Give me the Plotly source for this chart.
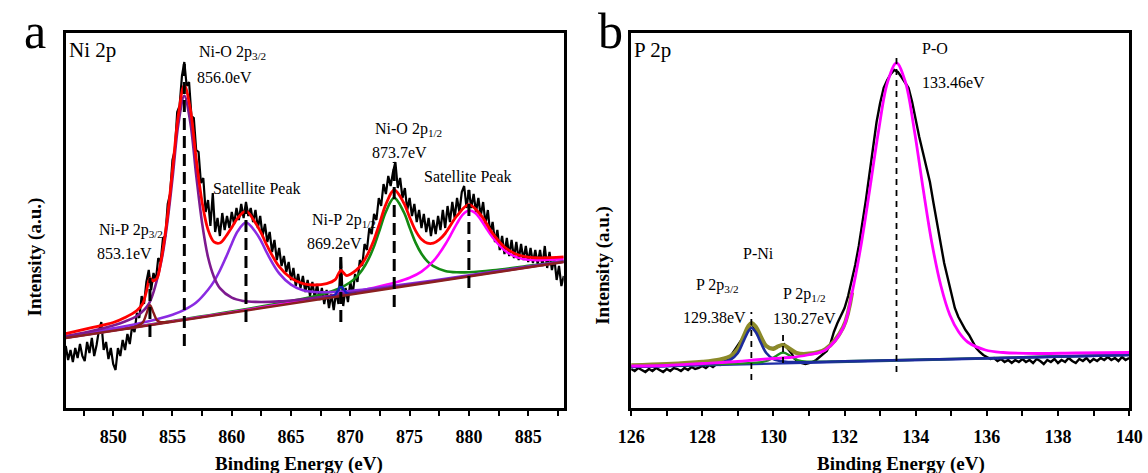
import numpy as np
import plotly.graph_objects as go

W, H = 1148, 473
FONT = "Liberation Serif"

# ---------------- Panel a : Ni 2p ----------------
a_energy_start, a_energy_stop, a_energy_step = 846.0, 888.0, 0.2
a_raw = [
    62, 48, 58, 46, 60, 50, 64, 52, 47, 66,
    55, 70, 52, 63, 78, 86, 58, 66, 49, 60,
    44, 38, 60, 52, 68, 58, 74, 64, 82, 76,
    95, 90, 112, 104, 126, 138, 118, 135, 128, 150,
    146, 170, 172, 204, 214, 248, 258, 296, 302, 332,
    346, 322, 326, 292, 290, 258, 256, 225, 230, 196,
    208, 182, 215, 176, 190, 172, 195, 178, 192, 180,
    196, 184, 200, 188, 204, 190, 206, 192, 200, 186,
    198, 180, 192, 172, 184, 166, 176, 156, 168, 148,
    160, 142, 152, 136, 146, 128, 140, 122, 134, 120,
    132, 116, 128, 112, 126, 110, 124, 108, 120, 104,
    118, 100, 114, 98, 116, 104, 150, 102, 120, 106,
    126, 114, 134, 126, 148, 142, 164, 158, 180, 174,
    194, 188, 210, 202, 224, 214, 232, 222, 236, 246,
    220, 230, 210, 220, 198, 210, 192, 204, 186, 198,
    180, 194, 176, 190, 172, 188, 174, 192, 178, 198,
    180, 202, 186, 206, 190, 210, 196, 216, 222, 200,
    218, 200, 214, 196, 210, 192, 206, 184, 198, 174,
    186, 166, 178, 158, 172, 154, 170, 152, 168, 150,
    166, 148, 164, 148, 162, 146, 160, 145, 158, 144,
    158, 142, 162, 140, 156, 138, 150, 128, 142, 122,
    132,
]

a_base_e = [846, 888]
a_base_i = [70, 146]

a_env_e = [846, 848, 850, 851, 852, 852.5, 852.8, 853.1, 853.4, 853.7, 854, 854.5, 855, 855.5, 856,
           856.5, 857, 857.5, 858, 858.5, 859, 859.5, 860, 860.5, 861.2, 862, 862.5, 863, 864, 865,
           866, 867, 868, 868.7, 868.95, 869.2, 869.45, 869.7, 870.5, 871, 871.5, 872, 872.5, 873, 873.7,
           874.5, 875, 875.5, 876, 876.5, 877, 877.5, 878, 879, 880, 881, 882, 883, 884, 885, 886, 888]
a_env_i = [74.3, 79.9, 85.5, 90.5, 97.5, 104.5, 116.5, 129.5, 127, 130, 145, 184, 237.4, 293.2, 322.9,
           299.4, 249.3, 205.8, 178.2, 166.1, 165.0, 171.5, 180.5, 189.9, 196.8, 185.0, 174.7, 161.8, 141.3, 129.8,
           124.4, 123.0, 124.4, 128.1, 132.9, 137.7, 134.9, 132.4, 137.8, 144.4, 154.7, 168.3, 185.9, 203.7, 218.0,
           205.3, 190.8, 177.4, 168.7, 164.8, 164.8, 168.3, 174.5, 192.3, 203.3, 193.0, 174.6, 161.0, 153.8, 150.9, 150.2, 151.1]

a_nio32_e = [846, 848, 850, 851, 852, 853, 854, 854.5, 855, 855.5, 856, 856.5, 857, 857.5, 858, 858.5,
             859, 860, 861, 862, 864, 866, 868, 872, 878, 888]
a_nio32_i = [72, 76.5, 82.5, 86.5, 92, 104, 143.5, 179.4, 229.3, 284.2, 312.1, 286, 232.9, 184.8, 150.7, 131.1,
             119.9, 110.3, 107, 106.1, 106.6, 108.8, 111.7, 118.2, 128.5, 146.3]

a_sat1_e = [846, 850, 853, 855, 856, 857, 858, 858.5, 859, 859.5, 860, 860.5, 861.2, 862, 862.5, 863,
            864, 865, 866, 867, 868, 870, 873, 877, 882, 888]
a_sat1_i = [71.3, 79.6, 86.8, 93.3, 98.1, 105.4, 118.2, 126.6, 137.5, 150.4, 164.3, 176.7, 185.5, 176.0, 166.4, 154.3,
            134.6, 123.4, 117.7, 116.0, 115.8, 117.0, 121.1, 127.5, 136.1, 146.6]

a_nio12_e = [846, 855, 862, 866, 868, 869, 870, 870.5, 871, 871.5, 872, 872.5, 873, 873.7, 874.5, 875,
             875.5, 876, 876.5, 877, 878, 879, 880, 882, 885, 888]
a_nio12_i = [70.2, 86.9, 100.4, 109.2, 115.0, 119.2, 125.7, 130.8, 137.9, 148.1, 161.6, 179.0, 196.4, 210.1, 196.1, 180.5,
             165.4, 154.3, 146.7, 141.9, 137.1, 135.7, 135.8, 137.7, 142.1, 147.0]

a_sat2_e = [846, 860, 866, 870, 872, 874, 875, 876, 877, 877.5, 878, 878.5, 879, 879.5, 880, 880.5,
            881, 881.5, 882, 883, 884, 885, 886, 887, 888]
a_sat2_i = [70.2, 95.8, 107.3, 115.4, 120.2, 126.2, 130.2, 136.4, 146.9, 154.4, 163.5, 173.8, 184.7, 193.6, 197.5, 195.4,
            188.4, 179.3, 170.8, 157.8, 150.9, 148.3, 147.9, 148.4, 149.1]

a_nip32_e = [851, 852, 852.5, 852.8, 853.1, 853.4, 853.7, 854, 854.5, 855]
a_nip32_i = [79.1, 81.9, 85.6, 94.1, 102.9, 95.2, 87.7, 85.9, 86.0, 86.6]

a_nip12_e = [867.9, 868.4, 868.7, 868.95, 869.2, 869.45, 869.7, 870, 870.5]
a_nip12_i = [109.9, 111.2, 113.1, 117.5, 122.0, 118.4, 114.9, 114.1, 114.6]

a_mark_e = [853.1, 856.0, 861.2, 869.2, 873.7, 880.0]
a_mark_lo = [71, 62, 86, 86, 101, 120]
a_mark_hi = [130, 346, 200, 151, 246, 218]

a_labels = [
    ("Ni-O 2p<sub>3/2</sub>", 857.04, 356),
    ("856.0eV", 856.87, 331),
    ("Satellite Peak", 858.27, 220),
    ("Ni-P 2p<sub>3/2</sub>", 848.64, 178),
    ("853.1eV", 848.47, 155),
    ("Ni-P 2p<sub>1/2</sub>", 866.59, 188),
    ("869.2eV", 866.18, 165),
    ("Ni-O 2p<sub>1/2</sub>", 871.95, 279),
    ("873.7eV", 871.70, 256),
    ("Satellite Peak", 876.07, 232),
]

# ---------------- Panel b : P 2p ----------------
b_energy_start, b_energy_stop, b_energy_step = 126.0, 140.0, 0.1
b_raw = [
    39, 37, 40, 38, 36, 39, 37, 40, 38, 36,
    39, 37, 40, 39, 37, 40, 38, 41, 39, 40,
    42, 40, 43, 41, 44, 43, 46, 48, 52, 57,
    62, 68, 74, 80, 84, 79, 73, 66, 62, 60,
    60, 61, 63, 64, 60, 55, 49, 46, 45, 44,
    45, 46, 48, 51, 54, 57, 64, 76, 85, 92,
    100, 112, 126, 143, 162, 184, 208, 234, 262, 286,
    305, 320, 328, 334, 338, 336, 331, 326, 320, 306,
    288, 271, 256, 240, 226, 205, 184, 166, 145, 130,
    115, 100, 91, 84, 78, 73, 66, 60, 56, 53,
    51, 49, 50, 47, 49, 46, 48, 45, 48, 46,
    49, 46, 48, 45, 49, 47, 44, 48, 46, 49,
    45, 48, 46, 50, 47, 45, 49, 47, 50, 46,
    49, 47, 50, 48, 51, 48, 50, 47, 51, 48,
    50,
]

b_base_e = [126, 140]
b_base_i = [41, 53]

b_po_e = [126, 127, 128, 129, 129.46, 130, 130.46, 130.96, 131.46, 131.96, 132.21, 132.46, 132.71, 132.96,
          133.21, 133.46, 133.71, 133.96, 134.21, 134.46, 134.71, 134.96, 135.21, 135.46, 135.96, 136.46,
          137.46, 138.5, 140]
b_po_i = [42, 42.5, 44.5, 46.5, 48, 49.5, 50.5, 53, 58, 80, 115, 162, 219, 278,
          326, 345, 326, 278, 219, 164, 122, 93, 76, 66, 58, 55.5,
          54.5, 55, 55.5]

b_p32_e = [126, 127, 128, 128.5, 128.8, 129.0, 129.15, 129.3, 129.38, 129.5, 129.65, 129.8, 130.0, 130.3,
           130.6, 131, 132, 134, 137, 140]
b_p32_i = [41.2, 42.1, 43.5, 45.2, 48.5, 55, 66, 77, 80, 76, 65, 55, 49, 46.5,
           45.8, 45.8, 46.7, 48.2, 50.6, 53.1]

b_p12_e = [126, 128, 129, 129.6, 129.85, 130.05, 130.27, 130.5, 130.7, 131, 132, 134, 137, 140]
b_p12_i = [41.4, 43.3, 44.4, 45.6, 47.5, 51.5, 55.5, 51.5, 47.5, 46.3, 46.8, 48.3, 50.7, 53.2]

b_env_e = [126, 127, 128, 128.5, 128.8, 129.0, 129.15, 129.3, 129.38, 129.5, 129.65, 129.8, 130.0, 130.1,
           130.27, 130.45, 130.65, 131.0, 131.46, 131.96, 132.21]
b_env_i = [42.6, 43.8, 46.1, 48.5, 52, 59, 70.5, 82, 85, 81.5, 71, 62, 59, 61,
           63, 59.5, 55, 54.3, 58.8, 80.7, 115.5]

b_mark_e = [129.38, 130.27, 133.46]
b_mark_lo = [28, 45, 36]
b_mark_hi = [96, 76, 355]

b_labels = [
    ("P-O", 134.13, 360),
    ("133.46eV", 134.13, 326),
    ("P-Ni", 129.10, 155),
    ("P 2p<sub>3/2</sub>", 127.78, 123),
    ("129.38eV", 127.40, 91),
    ("P 2p<sub>1/2</sub>", 130.20, 114),
    ("130.27eV", 129.93, 90),
]

# ---------------- figure ----------------
fig = go.Figure()


def line(x, y, color, width, xa, ya, shape="spline", dash=None):
    fig.add_trace(go.Scatter(
        x=x, y=y, mode="lines",
        line=dict(color=color, width=width, shape=shape, dash=dash, smoothing=1.0 if shape == "spline" else None),
        xaxis=xa, yaxis=ya, showlegend=False, hoverinfo="skip"))


def marks(es, lo, hi, xa, ya, width, dash):
    xs, ys = [], []
    for e, l, h in zip(es, lo, hi):
        xs += [e, e, None]
        ys += [l, h, None]
    fig.add_trace(go.Scatter(x=xs, y=ys, mode="lines", line=dict(color="black", width=width, dash=dash),
                             xaxis=xa, yaxis=ya, showlegend=False, hoverinfo="skip"))


a_e = np.round(np.arange(a_energy_start, a_energy_stop + 1e-6, a_energy_step), 2)
b_e = np.round(np.arange(b_energy_start, b_energy_stop + 1e-6, b_energy_step), 2)

# panel a
line(a_e, a_raw, "black", 2.2, "x", "y", shape="linear")
line(a_nio12_e, a_nio12_i, "#138a13", 2.6, "x", "y")
line(a_sat2_e, a_sat2_i, "#ff00ff", 2.6, "x", "y")
line(a_sat1_e, a_sat1_i, "#8a2be2", 2.6, "x", "y")
line(a_nio32_e, a_nio32_i, "#7d1a8f", 2.6, "x", "y")
line(a_nip12_e, a_nip12_i, "#1020c0", 2.4, "x", "y")
line(a_nip32_e, a_nip32_i, "#8b1a1a", 2.4, "x", "y")
line(a_base_e, a_base_i, "#8b2020", 2.6, "x", "y", shape="linear")
line(a_env_e, a_env_i, "#ff0000", 2.8, "x", "y")
marks(a_mark_e, a_mark_lo, a_mark_hi, "x", "y", 3, "12px,6px")

# panel b
line(b_e, b_raw, "black", 2.4, "x2", "y2", shape="linear")
line(b_base_e, b_base_i, "#1f2fa8", 2.4, "x2", "y2", shape="linear")
line(b_env_e, b_env_i, "#8c8a2a", 4.2, "x2", "y2")
line(b_p12_e, b_p12_i, "#1e8c1e", 2.4, "x2", "y2")
line(b_p32_e, b_p32_i, "#1c2b9c", 2.6, "x2", "y2")
line(b_po_e, b_po_i, "#ff00ff", 2.8, "x2", "y2")
marks(b_mark_e, b_mark_lo, b_mark_hi, "x2", "y2", 1.8, "6px,5px")

y_dom = [1 - 408 / H, 1 - 33 / H]
tickfont = dict(family=FONT, size=18, color="black", weight="bold")
common_x = dict(showline=True, mirror=True, linecolor="black", linewidth=2.5, ticks="outside",
                ticklen=5, tickwidth=2, tickcolor="black", showgrid=False, zeroline=False,
                tickfont=tickfont, ticklabelstandoff=6, ticklabeloverflow="allow")
common_y = dict(showline=True, mirror=True, linecolor="black", linewidth=2.5, ticks="",
                showticklabels=False, showgrid=False, zeroline=False, range=[0, 375], domain=y_dom)

fig.update_layout(
    width=W, height=H, autosize=False,
    margin=dict(l=0, r=0, t=0, b=0),
    paper_bgcolor="white", plot_bgcolor="white",
    font=dict(family=FONT, color="black"),
    xaxis=dict(domain=[53 / W, 563 / W], range=[846, 888], anchor="y", tick0=850, dtick=5,
               minor=dict(ticks="outside", ticklen=5, tickwidth=2, tickcolor="black", dtick=2.5, tick0=847.5),
               **common_x),
    yaxis=dict(anchor="x", **common_y),
    xaxis2=dict(domain=[632 / W, 1142 / W], range=[126, 140.0005], anchor="y2", tick0=126, dtick=2,
                minor=dict(ticks="outside", ticklen=5, tickwidth=2, tickcolor="black", dtick=1, tick0=127),
                **common_x),
    yaxis2=dict(anchor="x2", **common_y),
)

ann = []
lab_font = dict(family=FONT, size=16, color="black")
for txt, xe, yi in a_labels:
    ann.append(dict(text=txt, x=xe, y=yi, xref="x", yref="y", xanchor="left", yanchor="middle",
                    showarrow=False, font=lab_font))
for txt, xe, yi in b_labels:
    ann.append(dict(text=txt, x=xe, y=yi, xref="x2", yref="y2", xanchor="left", yanchor="middle",
                    showarrow=False, font=lab_font))

big = dict(family=FONT, size=21, color="black")
ann.append(dict(text="Ni 2p", x=54 / W, y=1 - 50 / H, xref="paper", yref="paper", xanchor="left",
                yanchor="middle", showarrow=False, font=big))
ann.append(dict(text="P 2p", x=633 / W, y=1 - 50 / H, xref="paper", yref="paper", xanchor="left",
                yanchor="middle", showarrow=False, font=big))
letter = dict(family=FONT, size=50, color="black")
ann.append(dict(text="a", x=8 / W, y=1 - 61 / H, xref="paper", yref="paper", xanchor="left",
                yanchor="bottom", showarrow=False, font=letter))
ann.append(dict(text="b", x=596 / W, y=1 - 61 / H, xref="paper", yref="paper", xanchor="left",
                yanchor="bottom", showarrow=False, font=letter))

title_font = dict(family=FONT, size=19, color="black", weight="bold")
for cx in [292, 908]:
    ann.append(dict(text="Binding Energy (eV)", x=cx / W, y=1 - 464 / H, xref="paper", yref="paper",
                    xanchor="center", yanchor="middle", showarrow=False, font=title_font))
for cx, cy in [(22, 257), (603, 265)]:
    ann.append(dict(text="Intensity (a.u.)", x=cx / W, y=1 - cy / H, xref="paper", yref="paper",
                    xanchor="center", yanchor="middle", textangle=-90, showarrow=False, font=title_font))

fig.update_layout(annotations=ann)
fig.write_html("out.html", config={"displayModeBar": False},
               post_script="document.body.style.margin='0';document.body.style.overflow='hidden';")
